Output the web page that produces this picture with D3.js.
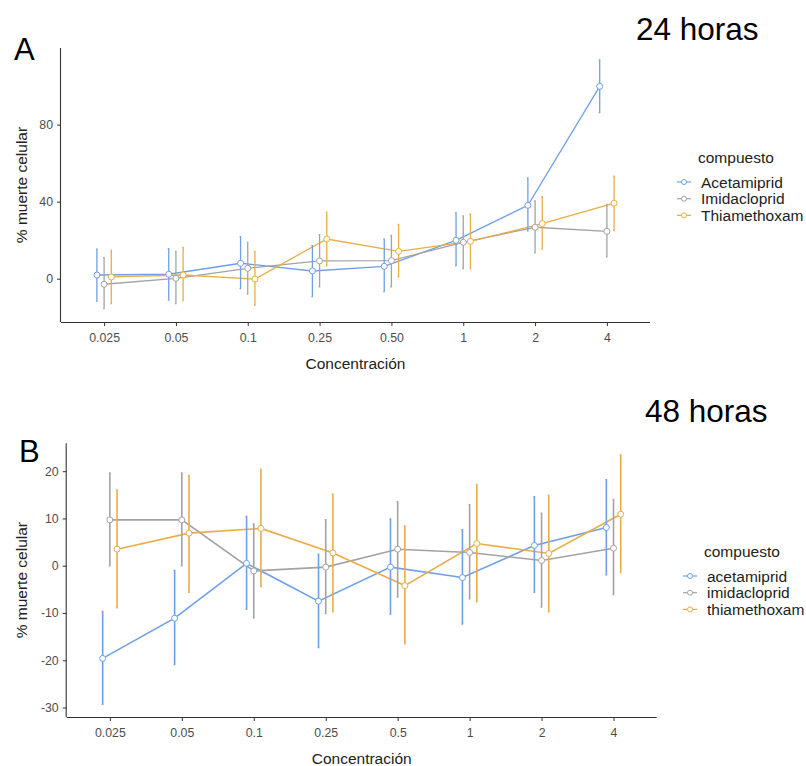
<!DOCTYPE html>
<meta charset="utf-8">
<title>Muerte celular</title>
<style>
body {
    margin: 0;
    background: #fff;
  }
text {
    font-family: "Liberation Sans", Arial, sans-serif;
}
</style>
<body>
<script src="https://cdn.jsdelivr.net/npm/d3@7"></script>
<script>

// Data
var concentraciones24 = ["0.025", "0.05", "0.1", "0.25", "0.50", "1", "2", "4"];
var concentraciones48 = ["0.025", "0.05", "0.1", "0.25", "0.5", "1", "2", "4"];
var compuestos24 = ["Acetamiprid", "Imidacloprid", "Thiamethoxam"];
var compuestos48 = ["acetamiprid", "imidacloprid", "thiamethoxam"];
var colores = ["#6F9FE8", "#A3A3A3", "#E9AD48"];

var ticks24 = [0, 40, 80];
var ticks48 = [-30, -20, -10, 0, 10, 20];

// 24 horas: mean, lower and upper end of error bars
var acet24 = [1.9, 2.3, 8.0, 4.0, 6.4, 19.9, 38.1, 99.9];
var acet24Lo = [-11.7, -11.1, -5.2, -9.3, -6.7, 6.8, 24.9, 86.2];
var acet24Hi = [15.3, 15.6, 21.8, 17.1, 20.5, 34.1, 52.3, 113.6];
var imid24 = [-2.9, 0.2, 5.4, 9.2, 9.4, 18.9, 26.7, 24.6];
var imid24Lo = [-15.6, -13.0, -7.9, -4.2, -4.2, 5.2, 13.4, 11.4];
var imid24Hi = [10.9, 14.2, 18.9, 22.9, 22.5, 32.6, 40.4, 38.6];
var thia24 = [0.9, 1.9, -0.2, 20.6, 14.2, 19.4, 28.6, 39.2];
var thia24Lo = [-13.0, -11.4, -13.8, 6.6, 0.9, 5.2, 15.3, 25.1];
var thia24Hi = [14.7, 16.3, 14.2, 34.5, 28.2, 33.6, 42.6, 53.2];

// 48 horas
var acet48 = [-19.6, -11.1, 0.5, -7.5, -0.3, -2.5, 4.3, 8.1];
var acet48Lo = [-29.3, -20.9, -9.2, -17.3, -10.2, -12.3, -5.6, -1.9];
var acet48Hi = [-9.7, -1.0, 10.4, 2.4, 9.9, 7.6, 14.6, 18.2];
var imid48 = [9.7, 9.7, -1.1, -0.3, 3.5, 2.8, 1.1, 3.7];
var imid48Lo = [0, 0, -11.0, -10.1, -6.6, -7.0, -8.7, -6.1];
var imid48Hi = [19.6, 19.6, 8.8, 9.7, 13.5, 12.9, 11.1, 14.0];
var thia48 = [3.5, 6.9, 7.9, 2.7, -4.2, 4.7, 2.6, 10.9];
var thia48Lo = [-8.9, -5.6, -4.4, -9.7, -16.5, -7.6, -9.7, -1.4];
var thia48Hi = [16.0, 19.1, 20.4, 15.1, 8.4, 17.2, 14.9, 23.4];

var width = 806, height = 766;

var svg = d3.select("body").append("svg")
    .attr("width", width)
    .attr("height", height);

function drawPanel(p) {
  var g = svg.append("g");

  var x = d3.scalePoint()
      .domain(p.cats)
      .range([p.left, p.right])
      .padding(0.6);
  var step = x.step();

  var y = d3.scaleLinear()
      .domain(p.ydomain)
      .range([p.bottom, p.top]);

  // dodge offsets (width 0.3)
  var dodge = [-0.1, 0, 0.1];

  var series = p.names.map(function(n, i) {
    return {
      name: n,
      color: colores[i],
      pts: p.cats.map(function(c, j) {
        return {
          x: x(c) + dodge[i] * step,
          m: p.mean[i][j],
          lo: p.lo[i][j],
          hi: p.hi[i][j]
        };
      })
    };
  });

  // axes
  var xAxis = d3.axisBottom(x).tickSize(4).tickSizeOuter(0);
  var yAxis = d3.axisLeft(y).tickValues(p.ticks).tickSize(4).tickSizeOuter(0)
      .tickFormat(function(d) { return String(d); });

  var gx = g.append("g")
      .attr("transform", "translate(0," + p.bottom + ")")
      .call(xAxis);
  var gy = g.append("g")
      .attr("transform", "translate(" + p.left + ",0)")
      .call(yAxis);
  gx.select(".domain").attr("d", "M" + p.left + ",0.5H" + p.right);
  gy.select(".domain").attr("d", "M-0.5," + p.top + "V" + p.bottom);
  [gx, gy].forEach(function(a) {
    a.selectAll(".domain").attr("stroke", "#333").attr("stroke-width", 1.1);
    a.selectAll(".tick line").attr("stroke", "#333");
    a.selectAll(".tick text")
        .attr("fill", "#4D4D4D")
        .style("font-size", "12.3px")
        .style("font-family", "'Liberation Sans', Arial, sans-serif");
  });
  gx.selectAll(".tick text").attr("dy", "1.05em");
  gy.selectAll(".tick text").attr("dx", "-1px");

  var line = d3.line()
      .x(function(d) { return d.x; })
      .y(function(d) { return y(d.m); });

  // lines
  g.selectAll(".serie")
      .data(series)
    .enter().append("path")
      .attr("d", function(d) { return line(d.pts); })
      .attr("fill", "none")
      .attr("stroke", function(d) { return d.color; })
      .attr("stroke-width", p.lw);

  // error bars
  series.forEach(function(s) {
    var eb = g.append("g")
        .attr("stroke", s.color)
        .attr("stroke-width", p.lw)
        .attr("fill", "none");
    eb.selectAll("path")
        .data(s.pts)
      .enter().append("path")
        .attr("d", function(d) {
          return "M" + (d.x - 1) + "," + y(d.hi) + "H" + d.x +
                 "V" + y(d.lo) + "H" + (d.x - 1);
        });
  });

  // points
  series.forEach(function(s) {
    g.selectAll(null)
        .data(s.pts)
      .enter().append("circle")
        .attr("cx", function(d) { return d.x; })
        .attr("cy", function(d) { return y(d.m); })
        .attr("r", 3)
        .attr("fill", "#fff")
        .attr("stroke", s.color)
        .attr("stroke-width", 1);
  });

  // axis titles
  g.append("text")
      .attr("x", (p.left + p.right) / 2)
      .attr("y", p.bottom + 47)
      .attr("text-anchor", "middle")
      .style("font-size", "15.5px")
      .attr("fill", "#222")
      .text("Concentración");

  g.append("text")
      .attr("transform", "translate(" + p.ylabX + "," + ((p.top + p.bottom) / 2) + ") rotate(-90)")
      .attr("text-anchor", "middle")
      .style("font-size", "15.5px")
      .attr("fill", "#222")
      .text("% muerte celular");

  // panel letter and title
  g.append("text")
      .attr("x", p.letterX)
      .attr("y", p.letterY)
      .style("font-size", "31px")
      .attr("fill", "#000")
      .text(p.letter);

  g.append("text")
      .attr("x", p.titleX)
      .attr("y", p.titleY)
      .style("font-size", "31.5px")
      .attr("fill", "#000")
      .text(p.title);

  // legend
  var lg = g.append("g")
      .attr("transform", "translate(" + p.legX + "," + p.legY + ")");
  lg.append("text")
      .attr("x", 21)
      .attr("y", 0)
      .style("font-size", "15.5px")
      .attr("fill", "#222")
      .text("compuesto");
  var items = lg.selectAll(".item")
      .data(series)
    .enter().append("g")
      .attr("transform", function(d, i) { return "translate(0," + (19 + i * 16.7) + ")"; });
  items.append("line")
      .attr("x1", 0).attr("x2", 14)
      .attr("stroke", function(d) { return d.color; })
      .attr("stroke-width", 1.2);
  items.append("circle")
      .attr("cx", 7).attr("r", 2.5)
      .attr("fill", "#fff")
      .attr("stroke", function(d) { return d.color; });
  items.append("text")
      .attr("x", 24)
      .attr("dy", "0.36em")
      .style("font-size", "15.5px")
      .attr("fill", "#222")
      .text(function(d) { return d.name; });
}

drawPanel({
  cats: concentraciones24, names: compuestos24, ticks: ticks24,
  mean: [acet24, imid24, thia24],
  lo: [acet24Lo, imid24Lo, thia24Lo],
  hi: [acet24Hi, imid24Hi, thia24Hi],
  left: 61, right: 650, top: 48, bottom: 322,
  ydomain: [-22.5, 119.8], lw: 1.3,
  ylabX: 27, letter: "A", letterX: 14, letterY: 60,
  title: "24 horas", titleX: 636, titleY: 40,
  legX: 677, legY: 163
});

drawPanel({
  cats: concentraciones48, names: compuestos48, ticks: ticks48,
  mean: [acet48, imid48, thia48],
  lo: [acet48Lo, imid48Lo, thia48Lo],
  hi: [acet48Hi, imid48Hi, thia48Hi],
  left: 66.7, right: 656.7, top: 443.3, bottom: 717,
  ydomain: [-32, 25.9], lw: 1.6,
  ylabX: 27, letter: "B", letterX: 19, letterY: 462,
  title: "48 horas", titleX: 645, titleY: 422,
  legX: 683, legY: 557
});

</script>
